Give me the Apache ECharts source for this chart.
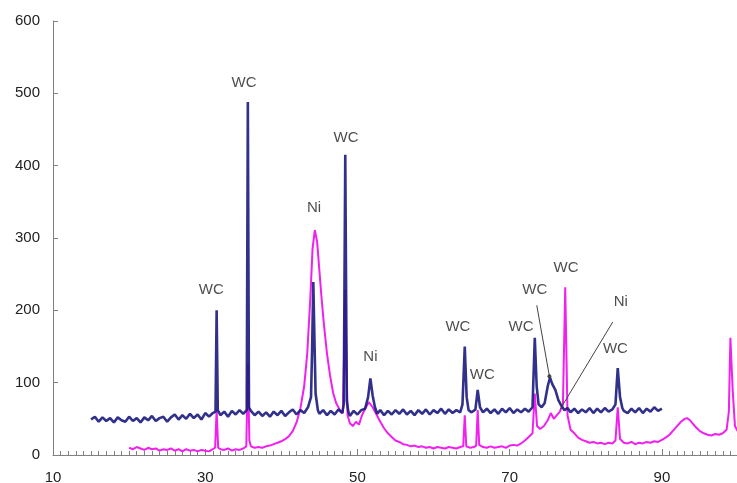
<!DOCTYPE html>
<html>
<head>
<meta charset="utf-8">
<script src="https://cdn.jsdelivr.net/npm/echarts@6/dist/echarts.min.js"></script>
<style>
html,body{margin:0;padding:0;background:#fff;}
#chart{width:737px;height:483px;}
</style>
</head>
<body>
<div id="chart"></div>
<script>
// X axis ticks (2θ) and Y axis ticks (counts)
const xTicks = [10, 30, 50, 70, 90];
const yTicks = [0, 100, 200, 300, 400, 500, 600];

// Navy pattern: [2θ, counts]
const navyPattern = [
[15,49],[15.5,53],[16,46],[16.5,52],[17,47],[17.5,51],[18,45],[18.5,52],[19,48],[19.5,46],
[20,53],[20.5,47],[21,51],[21.5,45],[22,52],[22.5,48],[23,54],[23.5,47],[24,51],[24.5,53],
[25,46],[25.5,52],[26,56],[26.5,49],[27,55],[27.5,50],[28,57],[28.5,51],[29,56],[29.5,49],
[30,58],[30.5,53],[31,58],[31.35,60],[31.5,200],[31.65,62],[32,55],[32.5,60],[33,53],[33.5,61],
[34,56],[34.5,62],[35,57],[35.45,62],[35.6,488],[35.75,66],[36,61],[36.5,55],[37,60],[37.5,54],
[38,59],[38.5,53],[39,60],[39.5,55],[40,61],[40.5,54],[41,59],[41.5,63],[42,56],[42.5,62],
[43,58],[43.5,66],[43.9,80],[44.05,150],[44.2,239],[44.35,160],[44.5,85],[44.8,62],[45,57],[45.5,62],
[46,55],[46.5,61],[47,56],[47.5,63],[48,58],[48.2,70],[48.4,415],[48.6,75],[48.8,60],[49,54],
[49.5,61],[50,56],[50.5,62],[51,64],[51.4,80],[51.7,106],[52,82],[52.3,66],[52.6,57],[53,62],
[53.5,55],[54,61],[54.5,56],[55,62],[55.5,57],[56,63],[56.5,56],[57,61],[57.5,55],[58,62],
[58.5,57],[59,63],[59.5,56],[60,62],[60.5,58],[61,64],[61.5,57],[62,63],[62.5,58],[63,62],
[63.5,59],[63.8,70],[64.1,150],[64.35,80],[64.6,62],[65,59],[65.5,63],[65.8,90],[66.1,66],[66.5,59],
[67,64],[67.5,58],[68,63],[68.5,57],[69,64],[69.5,59],[70,65],[70.5,58],[71,63],[71.5,59],
[72,64],[72.5,60],[73,66],[73.3,162],[73.55,95],[73.8,70],[74.2,66],[74.6,72],[75,95],[75.3,107],
[75.6,98],[76,90],[76.4,76],[76.8,68],[77.2,62],[77.6,65],[78,59],[78.5,64],[79,58],[79.5,63],
[80,59],[80.5,65],[81,58],[81.5,64],[82,59],[82.5,65],[83,60],[83.5,63],[83.9,70],[84.2,120],
[84.5,80],[84.8,65],[85,61],[85.5,58],[86,64],[86.5,59],[87,65],[87.5,58],[88,64],[88.5,60],
[89,66],[89.5,61],[90,64]
];

// Magenta pattern: [2θ, counts]
const magentaPattern = [
[20,10],[20.5,8],[21,11],[21.5,9],[22,7],[22.5,10],[23,8],[23.5,9],[24,6],[24.5,8],
[25,7],[25.5,9],[26,6],[26.5,8],[27,5],[27.5,8],[28,6],[28.5,7],[29,5],[29.5,7],
[30,6],[30.5,5],[31,8],[31.3,10],[31.5,62],[31.7,10],[32,8],[32.5,7],[33,9],[33.5,6],
[34,8],[34.5,7],[35,9],[35.4,12],[35.6,127],[35.8,20],[36,12],[36.5,10],[37,11],[37.5,10],
[38,12],[38.5,13],[39,15],[39.5,17],[40,19],[40.5,22],[41,26],[41.5,33],[42,45],[42.5,64],
[43,95],[43.4,140],[43.8,215],[44.1,285],[44.4,311],[44.7,295],[45,255],[45.3,215],[45.6,180],[46,140],
[46.4,110],[46.8,86],[47.2,72],[47.7,62],[48.1,58],[48.4,228],[48.7,55],[49,44],[49.4,40],[49.8,46],
[50.2,42],[50.6,55],[51,64],[51.5,73],[52,66],[52.5,56],[53,46],[53.5,37],[54,30],[54.5,25],
[55,20],[55.5,18],[56,15],[56.5,14],[57,12],[57.5,13],[58,11],[58.5,12],[59,10],[59.5,11],
[60,9],[60.5,11],[61,10],[61.5,9],[62,11],[62.5,10],[63,9],[63.5,11],[63.9,12],[64.1,55],
[64.3,12],[64.8,10],[65.3,11],[65.6,13],[65.8,62],[66,14],[66.5,11],[67,10],[67.5,12],[68,10],
[68.5,11],[69,12],[69.5,10],[70,13],[70.5,14],[71,13],[71.5,16],[72,20],[72.5,25],[73,30],
[73.3,85],[73.6,40],[74,36],[74.5,40],[75,48],[75.4,58],[75.8,50],[76.2,55],[76.6,60],[77,70],
[77.3,232],[77.6,55],[78,35],[78.5,30],[79,24],[79.5,21],[80,19],[80.5,17],[81,18],[81.5,16],
[82,17],[82.5,15],[83,17],[83.5,16],[83.9,20],[84.2,66],[84.5,22],[85,17],[85.5,16],[86,18],
[86.5,15],[87,17],[87.5,16],[88,18],[88.5,17],[89,19],[89.5,18],[90,21],[90.5,24],[91,28],
[91.5,34],[92,40],[92.5,46],[93,50],[93.3,51],[93.7,48],[94,44],[94.5,38],[95,33],[95.5,30],
[96,28],[96.5,27],[97,29],[97.5,28],[98,30],[98.5,35],[98.8,60],[99,162],[99.3,90],[99.6,40],
[100,32]
];

// Peak labels: [text, 2θ, counts]
const peakLabels = [
['WC',30.8,228],['WC',35.1,514],['Ni',44.3,342],['WC',48.5,438],['Ni',51.7,136],
['WC',63.2,177],['WC',66.4,111],['WC',71.5,177],['WC',73.3,228],['WC',77.4,259],
['Ni',84.6,212],['WC',83.9,147]
];

// Leader lines from labels to peaks
const leaderLines = [
[[73.56,207],[75.22,109]],
[[83.55,184],[76.62,63]]
];
const leaderDots = [[75.22,109]];

const chart = echarts.init(document.getElementById('chart'), null, {renderer:'canvas'});
const font = 'Liberation Sans, Arial, sans-serif';
chart.setOption({
  animation:false,
  backgroundColor:'#ffffff',
  grid:{left:53,right:-1,top:21,bottom:28,containLabel:false,outerBoundsMode:'none'},
  xAxis:{
    type:'value', min:xTicks[0], max:100, interval:xTicks[1]-xTicks[0],
    axisLine:{lineStyle:{color:'#808080',width:1}},
    axisTick:{show:true,inside:true,length:6,lineStyle:{color:'#808080'}},
    minorTick:{show:true,splitNumber:20,length:4,lineStyle:{color:'#808080'}},
    splitLine:{show:false},
    axisLabel:{color:'#222',fontSize:15,fontFamily:font,margin:15,showMaxLabel:false,
      formatter:function(v){return xTicks.indexOf(v)>=0?String(v):'';}}
  },
  yAxis:{
    type:'value', min:yTicks[0], max:yTicks[yTicks.length-1], interval:yTicks[1]-yTicks[0],
    axisLine:{show:true,lineStyle:{color:'#808080',width:1}},
    axisTick:{show:true,inside:true,length:5,lineStyle:{color:'#808080'}},
    splitLine:{show:false},
    axisLabel:{color:'#222',fontSize:15,fontFamily:font,margin:13}
  },
  series:[
    {type:'line', data:magentaPattern, showSymbol:false, symbol:'none', z:2,
     lineStyle:{color:'#f020ee',width:2}},
    {type:'line', data:navyPattern, showSymbol:false, symbol:'none', z:3,
     lineStyle:{color:'#1b1b7e',width:2.6,opacity:0.9}},
    {type:'lines', coordinateSystem:'cartesian2d', z:4,
     data:leaderLines.map(function(c){return {coords:c};}),
     lineStyle:{color:'#444',width:1,opacity:1}},
    {type:'scatter', data:leaderDots, symbol:'circle', symbolSize:4, z:5,
     itemStyle:{color:'#222'}},
    {type:'scatter', z:6, symbolSize:0,
     data:peakLabels.map(function(p){return {name:p[0],value:[p[1],p[2]]};}),
     label:{show:true,position:'inside',formatter:'{b}',color:'#222',fontSize:15,fontFamily:font}}
  ]
});
</script>
</body>
</html>
